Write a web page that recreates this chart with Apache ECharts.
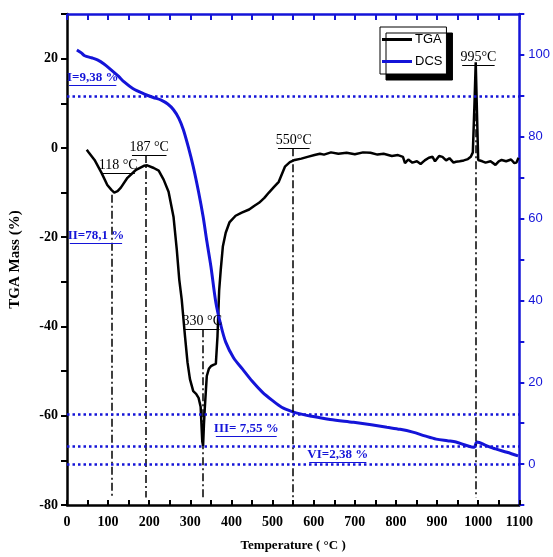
<!DOCTYPE html>
<html>
<head>
<meta charset="utf-8">
<script src="https://cdn.jsdelivr.net/npm/echarts@6/dist/echarts.min.js"></script>
<style>
  html, body { margin: 0; padding: 0; background: #fff; }
  #chart { width: 553px; height: 557px; }
</style>
</head>
<body>
<div id="chart"></div>
<script>
// TGA curve (left axis, %)
const tgaTemp = [48, 52, 67, 84, 98, 108, 115, 123, 131, 147, 168, 187, 195, 211, 223, 235, 247, 259, 267, 273,
  279, 287, 293, 299, 307, 314, 320, 325, 329, 331, 333, 335, 338, 340, 345, 350, 356, 362, 366, 370, 374, 379, 386,
  395, 410, 425, 443, 455, 467, 480, 491, 503, 515, 530, 542, 554, 570, 585, 602, 615, 625, 642, 660, 680, 700, 720,
  738, 755, 770, 790, 805, 817, 822, 830, 840, 851, 860, 870, 880, 889, 895, 905, 913, 922, 930, 940, 946, 955, 965,
  975, 982, 987, 991, 994, 997, 1000, 1010, 1018, 1030, 1042, 1050, 1057, 1068, 1080, 1088, 1093, 1098]
const tgaMass = [-0.4, -0.9, -2.7, -5.6, -8.3, -9.4, -10.0, -9.7, -8.9, -6.7, -4.9, -4.0, -3.9, -4.5, -5.1, -7.1, -9.8, -15.4, -22.8, -29.5,
  -34, -42.2, -48, -51.8, -54.5, -55.1, -56, -58, -65.8, -66.7, -62, -58.5, -54, -51.1, -49.5, -48.9, -48.6, -48.4, -42.2, -32, -27.2, -22.1, -19,
  -16.7, -15.2, -14.5, -13.8, -13.0, -12.3, -11.2, -10, -8.8, -7.6, -4.2, -3.2, -2.7, -2.4, -2.0, -1.6, -1.3, -1.5, -1.0, -1.3, -1.1, -1.4, -1.0,
  -1.1, -1.5, -1.3, -1.8, -1.6, -2.0, -3.4, -2.6, -3.3, -3.0, -3.6, -2.8, -2.2, -2.0, -3.0, -1.8, -2.0, -2.8, -2.3, -3.3, -3.1, -3.0, -2.8,
  -2.5, -2.0, -1.0, 10, 19.2, 8, -2.7, -3.0, -3.3, -3.0, -3.8, -3.0, -2.7, -3.0, -2.6, -3.4, -3.3, -2.2]

// DCS curve (right axis)
const dcsTemp = [24, 35, 43, 60, 74, 90, 108, 125, 139, 160, 187, 210, 228, 245, 259, 272, 283, 295, 307, 320, 331, 340,
  350, 362, 374, 386, 405, 427, 450, 475, 500, 522, 546, 570, 594, 640, 697, 740, 778, 810, 841, 870, 898, 925, 946,
  970, 990, 997, 1020, 1042, 1070, 1097]
const dcsValue = [101.2, 100.5, 99.8, 99.3, 98.8, 97.8, 96.3, 94.8, 93.4, 91.8, 90.5, 89.6, 89, 88, 86.6, 84.5, 81.7, 77.5, 72.7, 66.5, 60.5, 54.5,
  48.3, 39.5, 34, 29.8, 26, 23.2, 20.3, 17.6, 15.5, 13.9, 12.9, 12.2, 11.7, 10.9, 10.2, 9.6, 9.0, 8.5, 7.8, 6.9, 6.1, 5.7, 5.4,
  4.6, 4.1, 5.4, 4.5, 3.7, 2.9, 2.0]

// peak annotations: label, underline [from, to, level], drop line [temp, top]
const peakLabels = ['118 °C', '187 °C', '330 °C', '550°C', '995°C']
const peakUnder = [[84, 165, -5.6], [158, 242, -1.6], [287, 371, -40.6], [513, 590, -0.1], [961, 1040, 18.5]]
const peakDrop = [[108, -10.5], [192, -1.6], [331, -40.6], [549, -0.1], [994, 18.5]]
const dropBottom = -78.3

// mass-loss steps (right axis units)
const stepLabels = ['I=9,38 %', 'II=78,1 %', 'III= 7,55 %', 'VI=2,38 %']
const stepUnder = [[5, 120, 92.7], [7, 134, 53.9], [362, 510, 6.8], [589, 728, 0.5]]
const stepLevels = [90, 12.2, 4.4, 0]

const BLUE = '#1414d8'
const serif = 'Liberation Serif'

const tgaMarks = []
peakUnder.forEach((u, i) => {
  tgaMarks.push([
    {
      coord: [u[0], u[2]],
      lineStyle: { type: 'solid', width: 1.2, color: '#000' },
      label: {
        show: true, formatter: peakLabels[i], position: 'insideMiddleTop', distance: 1,
        color: '#000', fontFamily: serif, fontSize: 14
      }
    },
    { coord: [u[1], u[2]] }
  ])
})
peakDrop.forEach(d => {
  tgaMarks.push([
    { coord: [d[0], d[1]], lineStyle: { type: [8, 3, 2, 3], width: 1.5, color: '#000' }, label: { show: false } },
    { coord: [d[0], dropBottom] }
  ])
})

const dcsMarks = []
stepLevels.forEach(v => {
  dcsMarks.push({
    yAxis: v,
    lineStyle: { type: [2.5, 3], width: 2.5, color: BLUE },
    label: { show: false }
  })
})
stepUnder.forEach((u, i) => {
  dcsMarks.push([
    {
      coord: [u[0], u[2]],
      lineStyle: { type: 'solid', width: 1.2, color: BLUE },
      label: {
        show: true, formatter: stepLabels[i], position: 'insideMiddleTop', distance: 1,
        color: BLUE, fontFamily: serif, fontSize: 13, fontWeight: 'bold'
      }
    },
    { coord: [u[1], u[2]] }
  ])
})

const chart = echarts.init(document.getElementById('chart'))
chart.setOption({
  animation: false,
  backgroundColor: '#fff',
  grid: { left: 62, right: 32, top: 14, bottom: 50 },
  legend: {
    left: 380, top: 27, orient: 'vertical',
    padding: [6, 4, 6, 2], itemGap: 9, itemWidth: 30, itemHeight: 3, icon: 'rect',
    backgroundColor: '#fff', borderColor: '#000', borderWidth: 1,
    shadowColor: '#000', shadowOffsetX: 6, shadowOffsetY: 6, shadowBlur: 0,
    textStyle: { fontFamily: 'Liberation Sans', fontSize: 13, color: '#000', padding: [0, 0, 0, -2] },
    data: ['TGA', 'DCS']
  },
  xAxis: [
    {
      type: 'value', min: 0, max: 1100, interval: 50, position: 'bottom',
      name: 'Temperature ( °C )', nameLocation: 'middle', nameGap: 34,
      nameTextStyle: { fontFamily: serif, fontWeight: 'bold', fontSize: 13, color: '#000' },
      axisLine: { onZero: false, lineStyle: { color: '#000', width: 2.5 } },
      axisTick: { inside: true, length: 5, lineStyle: { color: '#000', width: 2 } },
      axisLabel: {
        margin: 10, fontFamily: serif, fontWeight: 'bold', fontSize: 14, color: '#000',
        formatter: v => (v % 100 === 0 ? String(v) : '')
      },
      splitLine: { show: false }
    },
    {
      type: 'value', min: 0, max: 1100, interval: 50, position: 'top',
      axisLine: { onZero: false, lineStyle: { color: BLUE, width: 2.5 } },
      axisTick: { inside: true, length: 6, lineStyle: { color: BLUE, width: 2 } },
      axisLabel: { show: false },
      splitLine: { show: false }
    }
  ],
  yAxis: [
    {
      type: 'value', min: -80, max: 30, interval: 10, position: 'left',
      name: 'TGA Mass (%)', nameLocation: 'middle', nameGap: 44, nameRotate: 90,
      nameTextStyle: { fontFamily: serif, fontWeight: 'bold', fontSize: 15, color: '#000' },
      axisLine: { onZero: false, lineStyle: { color: '#000', width: 2.5 } },
      axisTick: { length: 6, lineStyle: { color: '#000', width: 2 } },
      axisLabel: {
        margin: 9, fontFamily: serif, fontWeight: 'bold', fontSize: 14, color: '#000',
        formatter: v => (v % 20 === 0 && v <= 20 ? String(v) : '')
      },
      splitLine: { show: false }
    },
    {
      type: 'value', min: -10, max: 110, interval: 10, position: 'right',
      axisLine: { onZero: false, lineStyle: { color: BLUE, width: 2.5 } },
      axisTick: { length: 5, lineStyle: { color: BLUE, width: 2 } },
      axisLabel: {
        margin: 9, fontFamily: 'Liberation Sans', fontSize: 13, color: BLUE,
        formatter: v => (v % 20 === 0 && v >= 0 && v <= 100 ? String(v) : '')
      },
      splitLine: { show: false }
    }
  ],
  series: [
    {
      name: 'TGA', type: 'line', xAxisIndex: 0, yAxisIndex: 0,
      data: tgaTemp.map((t, i) => [t, tgaMass[i]]),
      symbol: 'none', color: '#000',
      lineStyle: { color: '#000', width: 2.5 },
      markLine: { silent: true, symbol: ['none', 'none'], data: tgaMarks }
    },
    {
      name: 'DCS', type: 'line', xAxisIndex: 0, yAxisIndex: 1,
      data: dcsTemp.map((t, i) => [t, dcsValue[i]]),
      symbol: 'none', smooth: 0.3, color: BLUE,
      lineStyle: { color: BLUE, width: 3 },
      markLine: { silent: true, symbol: ['none', 'none'], data: dcsMarks }
    }
  ]
})
</script>
</body>
</html>
